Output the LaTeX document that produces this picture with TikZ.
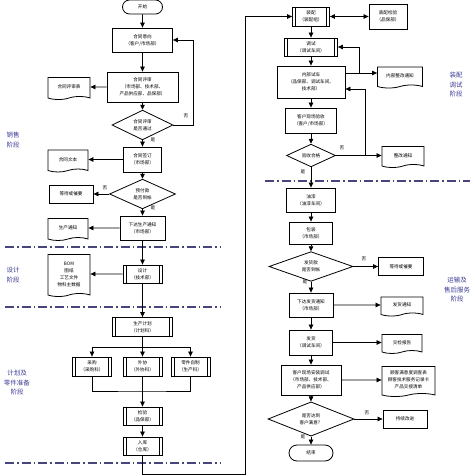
\documentclass[tikz,border=0pt]{standalone}
\usepackage{fontspec}
\setmainfont{Noto Sans CJK SC}
\usepackage{xcolor}
\usepackage{tikz}
\usetikzlibrary{shapes.geometric, shapes.symbols, shapes.misc, arrows.meta, positioning}

\definecolor{phaseblue}{RGB}{60,60,150}
\definecolor{stageline}{RGB}{70,70,125}

\begin{document}
\begin{tikzpicture}[x=1pt, y=-1pt, >={Triangle[length=5pt,width=4.5pt]},
    every node/.style={font=\fontsize{4.6}{7}\selectfont, align=center, inner sep=1pt},
    proc/.style={rectangle, draw=black, line width=0.8pt, fill=white},
    subproc/.style={proc, path picture={
        \draw[line width=0.9pt] ([xshift=3pt]path picture bounding box.north west) -- ([xshift=3pt]path picture bounding box.south west)
            ([xshift=-3pt]path picture bounding box.north east) -- ([xshift=-3pt]path picture bounding box.south east);}},
    decision/.style={diamond, draw=black, line width=0.8pt, fill=white, inner sep=0pt},
    doc/.style={tape, tape bend top=none, tape bend height=3pt, draw=black, line width=0.8pt, fill=white},
    term/.style={rounded rectangle, draw=black, line width=0.8pt, fill=white},
    lbl/.style={inner sep=0pt},
    phase/.style={font=\fontsize{6.5}{9.5}\selectfont, text=phaseblue},
    conn/.style={->, line width=0.7pt},
    dconn/.style={<->, line width=0.7pt},
    line/.style={line width=0.7pt},
    stage/.style={line width=1.2pt, draw=stageline, dash pattern=on 9pt off 3pt on 1.5pt off 3pt}
]
\useasboundingbox (0,0) rectangle (474,476);

% stage borders
\draw[stage] (5,247) -- (220,247);
\draw[stage] (5,307) -- (220,307);
\draw[stage] (5,463) -- (220,463);
\draw[stage] (265,181) -- (470,181);

% phases
\node[phase] (salesphase) at (13,140) {销售\\阶段};
\node[phase] (designphase) at (13,275) {设计\\阶段};
\node[phase] (planphase) at (17,383) {计划及\\零件准备\\阶段};
\node[phase] (asmphase) at (456,85) {装配\\调试\\阶段};
\node[phase] (shipphase) at (457,290) {运输及\\售后服务\\阶段};

% left column
\node[term, minimum width=42pt, minimum height=14pt] (start) at (142.5,7) {开始};
\node[proc, minimum width=60pt, minimum height=24pt] (intent) at (142.5,40) {合同意向\\（客户/市场部）};
\node[proc, minimum width=71pt, minimum height=30pt] (review) at (142.5,87) {合同评审\\（市场部、技术部、\\产品供应部、品保部）};
\node[doc, minimum width=42pt, minimum height=22pt] (reviewform) at (69,87) {合同评审表};
\node[decision, minimum width=61pt, minimum height=21pt] (pass) at (142.5,125) {合同评审\\是否通过};
\node[proc, minimum width=38pt, minimum height=25pt] (sign) at (142.5,159.5) {合同签订\\（市场部）};
\node[doc, minimum width=40pt, minimum height=22pt] (contract) at (68,159.5) {合同文本};
\node[decision, minimum width=66pt, minimum height=22pt] (prepay) at (142.5,194) {预付款\\是否到帐};
\node[proc, minimum width=44pt, minimum height=18pt] (wait1) at (71,194) {等待或催要};
\node[proc, minimum width=45pt, minimum height=24pt] (notice) at (142.5,228) {下达生产通知\\（市场部）};
\node[doc, minimum width=40pt, minimum height=22pt] (prodnotice) at (68,228) {生产通知};
\node[subproc, minimum width=39pt, minimum height=18pt] (design) at (142.5,274) {设计\\（技术部）};
\node[doc, minimum width=42pt, minimum height=42pt] (bom) at (69,274) {BOM\\图纸\\工艺文件\\物料主数据};
\node[subproc, minimum width=60pt, minimum height=19pt] (plan) at (142.5,327) {生产计划\\（计划科）};
\node[subproc, minimum width=39pt, minimum height=19pt] (purchase) at (92,366.5) {采购\\（采购科）};
\node[subproc, minimum width=39pt, minimum height=19pt] (outsrc) at (142.5,366.5) {外协\\（外协科）};
\node[subproc, minimum width=39pt, minimum height=19pt] (selfmade) at (190.5,366.5) {零件自制\\（生产科）};
\node[subproc, minimum width=39pt, minimum height=18pt] (inspect) at (142.5,416) {检验\\（品保部）};
\node[subproc, minimum width=39pt, minimum height=18pt] (stock) at (142.5,446) {入库\\（仓库）};

% right column
\node[subproc, minimum width=37pt, minimum height=19pt] (assembly) at (311,16.5) {装配\\（装配组）};
\node[proc, minimum width=38pt, minimum height=25pt] (asmcheck) at (388,16.5) {装配检验\\（品保部）};
\node[subproc, minimum width=53pt, minimum height=18pt] (debug) at (311,47) {调试\\（调试车间）};
\node[proc, minimum width=68pt, minimum height=32pt] (trial) at (311,82) {内部试车\\（品保部、调试车间、\\技术部）};
\node[doc, minimum width=45pt, minimum height=21pt] (innerfix) at (400,76) {内部整改通知};
\node[proc, minimum width=51pt, minimum height=25pt] (accept) at (311,120.5) {客户现场验收\\（客户/市场部）};
\node[decision, minimum width=49pt, minimum height=21pt] (acceptd) at (311,155.5) {验收合格};
\node[doc, minimum width=42pt, minimum height=21pt] (fixnotice) at (403,155.5) {整改通知};
\node[proc, minimum width=49pt, minimum height=24pt] (paint) at (311,200) {油漆\\（油漆车间）};
\node[proc, minimum width=43pt, minimum height=22pt] (pack) at (311,233) {包装\\（市场部）};
\node[decision, minimum width=84pt, minimum height=21pt] (shipfee) at (311,266.5) {发货款\\是否到帐};
\node[proc, minimum width=45pt, minimum height=18pt] (wait2) at (401,266.5) {等待或催要};
\node[proc, minimum width=44pt, minimum height=24pt] (shipnotice) at (311,305) {下达发货通知\\（市场部）};
\node[doc, minimum width=42pt, minimum height=19pt] (shipdoc) at (402,305) {发货通知};
\node[proc, minimum width=43pt, minimum height=25pt] (ship) at (311,342.5) {发货\\（调试车间）};
\node[doc, minimum width=40pt, minimum height=19pt] (report) at (402,342.5) {交检报告};
\node[proc, minimum width=60pt, minimum height=30pt] (install) at (311,380) {客户现场安装调试\\（市场部、技术部、\\产品供应部）};
\node[doc, minimum width=53pt, minimum height=30pt] (survey) at (408.5,380) {顾客满意度调查表\\顾客技术服务记录卡\\产品交接清单};
\node[decision, minimum width=86pt, minimum height=22pt] (satisfy) at (311,419) {是否达到\\客户满意？};
\node[proc, minimum width=44pt, minimum height=18pt] (improve) at (405,419) {持续改进};
\node[term, minimum width=46pt, minimum height=16pt] (finish) at (311,453) {结束};

% yes / no
\node[lbl] (passno) at (186,116) {否};
\node[lbl] (passyes) at (153,140) {是};
\node[lbl] (prepayno) at (105,188) {否};
\node[lbl] (prepayyes) at (153,208) {是};
\node[lbl] (acceptno) at (342,148) {否};
\node[lbl] (acceptyes) at (303,172) {是};
\node[lbl] (shipfeeno) at (364,259) {否};
\node[lbl] (shipfeeyes) at (305,282) {是};
\node[lbl] (satisfyno) at (367,413) {否};
\node[lbl] (satisfyyes) at (303,437) {是};

\coordinate (passback) at (193,125);
\coordinate (split) at (142.5,347);
\coordinate (merge) at (142.5,391);
\coordinate (back) at (245,474);
\coordinate (trialjoin) at (359,73);
\coordinate (failjoin) at (365,155.5);
\coordinate (failup) at (365,89);

% sales
\draw[conn] (start) -- (intent);
\draw[conn] (intent) -- (review);
\draw[conn] (review) -- (reviewform);
\draw[conn] (review) -- (pass);
\draw[conn] (pass) -- (passback) |- (intent);
\draw[conn] (pass) -- (sign);
\draw[conn] (sign) -- (contract);
\draw[conn] (sign) -- (prepay);
\draw[conn] (prepay) -- (wait1);
\draw[conn] (prepay) -- (notice);
\draw[conn] (notice) -- (prodnotice);
% design and planning
\draw[conn] (notice) -- (design);
\draw[conn] (design) -- (bom);
\draw[conn] (design) -- (plan);
\draw[line] (plan) -- (split);
\draw[line] (split -| purchase) -- (split -| selfmade);
\draw[conn] (split -| purchase) -- (purchase);
\draw[conn] (split) -- (outsrc);
\draw[conn] (split -| selfmade) -- (selfmade);
\draw[line] (purchase) |- (merge) -| (selfmade);
\draw[conn] (outsrc) -- (inspect);
\draw[conn] (inspect) -- (stock);
\draw[conn] (stock) |- (back) |- (assembly);
% assembly and debugging
\draw[dconn] (assembly) -- (asmcheck);
\draw[conn] (assembly) -- (debug);
\draw[conn] (debug) -- (trial);
\draw[line] (trial.east |- trialjoin) -- (trialjoin);
\draw[conn] (trialjoin) -- (trialjoin -| innerfix.west);
\draw[conn] (trialjoin) |- (debug);
\draw[conn] (trial) -- (accept);
\draw[conn] (accept) -- (acceptd);
\draw[conn] (acceptd) -- (fixnotice);
\draw[conn] (failjoin) -- (failup) -- (failup -| trial.east);
% shipping and service
\draw[conn] (acceptd) -- (paint);
\draw[conn] (paint) -- (pack);
\draw[conn] (pack) -- (shipfee);
\draw[conn] (shipfee) -- (wait2);
\draw[conn] (shipfee) -- (shipnotice);
\draw[conn] (shipnotice) -- (shipdoc);
\draw[conn] (shipnotice) -- (ship);
\draw[conn] (ship) -- (report);
\draw[conn] (ship) -- (install);
\draw[conn] (install) -- (survey);
\draw[conn] (install) -- (satisfy);
\draw[conn] (satisfy) -- (improve);
\draw[conn] (satisfy) -- (finish);
\end{tikzpicture}
\end{document}
